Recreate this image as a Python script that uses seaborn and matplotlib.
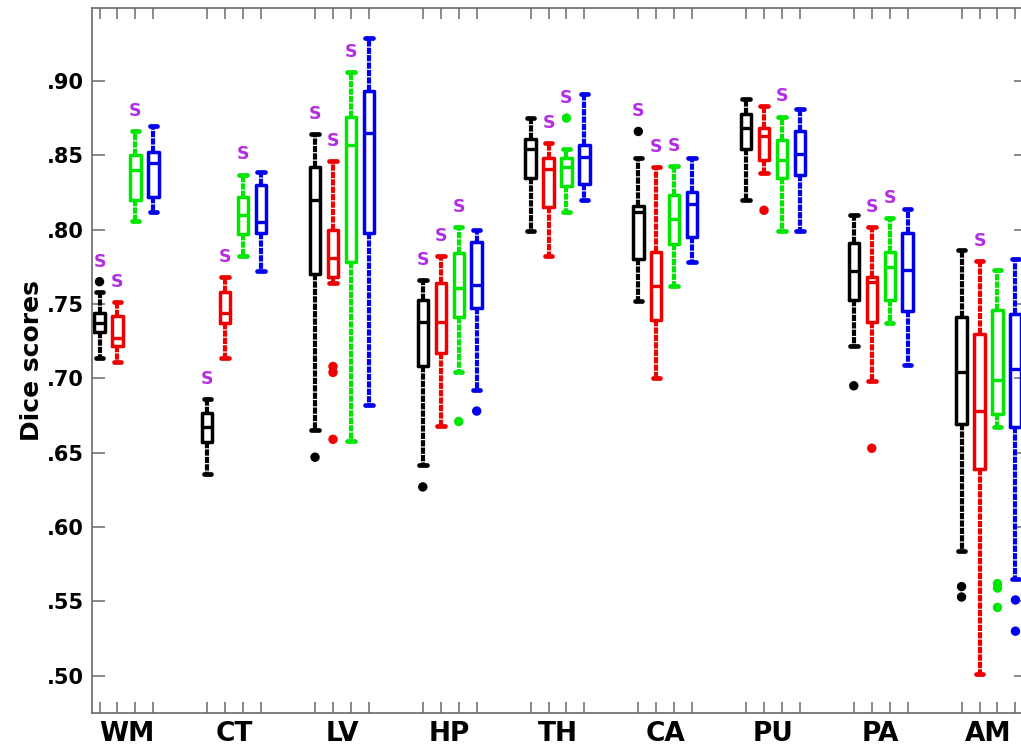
import numpy as np
import pandas as pd
import matplotlib
matplotlib.use("Agg")
import matplotlib.pyplot as plt
import seaborn as sns
from matplotlib.ticker import FuncFormatter, FixedLocator

# ---------------- data ----------------
regions = ["WM", "CT", "LV", "HP", "TH", "CA", "PU", "PA", "AM"]
methods = ["Black", "Red", "Green", "Blue"]
colors = ["#000000", "#EE0000", "#00E600", "#0000EE"]

black_lo  = [0.714, 0.636, 0.665, 0.642, 0.799, 0.752, 0.820, 0.722, 0.584]
black_q1  = [0.731, 0.657, 0.770, 0.708, 0.835, 0.780, 0.854, 0.753, 0.669]
black_med = [0.737, 0.667, 0.820, 0.738, 0.854, 0.812, 0.868, 0.772, 0.704]
black_q3  = [0.744, 0.677, 0.842, 0.753, 0.861, 0.816, 0.878, 0.791, 0.741]
black_hi  = [0.758, 0.686, 0.864, 0.766, 0.875, 0.848, 0.888, 0.810, 0.786]

red_lo  = [0.711, 0.714, 0.764, 0.668, 0.782, 0.700, 0.838, 0.698, 0.501]
red_q1  = [0.722, 0.737, 0.768, 0.717, 0.815, 0.739, 0.847, 0.738, 0.639]
red_med = [0.727, 0.744, 0.781, 0.738, 0.841, 0.762, 0.863, 0.765, 0.678]
red_q3  = [0.742, 0.758, 0.800, 0.764, 0.848, 0.785, 0.868, 0.768, 0.730]
red_hi  = [0.751, 0.768, 0.846, 0.782, 0.858, 0.842, 0.883, 0.802, 0.779]

green_lo  = [0.806, 0.782, 0.658, 0.704, 0.812, 0.762, 0.799, 0.737, 0.667]
green_q1  = [0.820, 0.797, 0.778, 0.741, 0.829, 0.790, 0.835, 0.753, 0.676]
green_med = [0.840, 0.810, 0.857, 0.761, 0.842, 0.807, 0.847, 0.775, 0.699]
green_q3  = [0.850, 0.822, 0.876, 0.784, 0.848, 0.823, 0.860, 0.785, 0.746]
green_hi  = [0.866, 0.837, 0.906, 0.802, 0.854, 0.843, 0.876, 0.808, 0.773]

blue_lo  = [0.812, 0.772, 0.682, 0.692, 0.820, 0.778, 0.799, 0.709, 0.565]
blue_q1  = [0.822, 0.798, 0.798, 0.747, 0.831, 0.795, 0.837, 0.745, 0.667]
blue_med = [0.845, 0.805, 0.865, 0.763, 0.849, 0.817, 0.851, 0.773, 0.706]
blue_q3  = [0.852, 0.830, 0.893, 0.792, 0.857, 0.825, 0.866, 0.798, 0.743]
blue_hi  = [0.870, 0.839, 0.929, 0.800, 0.891, 0.848, 0.881, 0.814, 0.780]

black_out = {"WM": [0.765], "LV": [0.647], "HP": [0.627], "CA": [0.866],
             "PA": [0.695], "AM": [0.560, 0.553]}
red_out = {"LV": [0.708, 0.704, 0.659], "PU": [0.813], "PA": [0.653]}
green_out = {"HP": [0.671], "TH": [0.875], "AM": [0.562, 0.559, 0.546]}
blue_out = {"HP": [0.678], "AM": [0.551, 0.530]}

# significance markers ("S") per method and region
black_sig = [1, 1, 1, 1, 0, 1, 0, 0, 0]
red_sig   = [1, 1, 1, 1, 1, 1, 0, 1, 1]
green_sig = [1, 1, 1, 1, 1, 1, 1, 1, 0]
blue_sig  = [0, 0, 0, 0, 0, 0, 0, 0, 0]

y_ticks = [0.50, 0.55, 0.60, 0.65, 0.70, 0.75, 0.80, 0.85, 0.90]

# ---------------- build tables ----------------
stats = {
    "Black": (black_lo, black_q1, black_med, black_q3, black_hi),
    "Red": (red_lo, red_q1, red_med, red_q3, red_hi),
    "Green": (green_lo, green_q1, green_med, green_q3, green_hi),
    "Blue": (blue_lo, blue_q1, blue_med, blue_q3, blue_hi),
}
outs = {"Black": black_out, "Red": red_out, "Green": green_out, "Blue": blue_out}
sigs = {"Black": black_sig, "Red": red_sig, "Green": green_sig, "Blue": blue_sig}

rows = []
for m in methods:
    for j, r in enumerate(regions):
        for arr in stats[m]:
            rows.append((r, m, arr[j]))
df = pd.DataFrame(rows, columns=["region", "method", "dice"])

# ---------------- figure ----------------
sns.set_theme(style="white")
plt.rcParams["font.family"] = ["DejaVu Sans"]
plt.rcParams["text.color"] = "black"
plt.rcParams["axes.labelcolor"] = "black"
plt.rcParams["xtick.color"] = "black"
plt.rcParams["ytick.color"] = "black"

W, H = 1021, 746
fig = plt.figure(figsize=(W / 100, H / 100), dpi=100)
ax = fig.add_axes([92 / W, (H - 713) / H, (1026 - 92) / W, (713 - 8) / H])

BOX_W = 0.667
GAP = 0.42
palette = dict(zip(methods, colors))

sns.boxplot(data=df, x="region", y="dice", hue="method", order=regions,
            hue_order=methods, palette=palette, fill=False, width=BOX_W,
            gap=GAP, whis=(0, 100), showfliers=False, linewidth=2.5,
            legend=False, ax=ax)

single_w = BOX_W / len(methods) * (1 - GAP)
for c in ax.containers:
    if not hasattr(c, "whiskers"):
        continue
    for w in c.whiskers:
        w.set_linestyle((0, (1.5, 0.28)))
        w.set_linewidth(3.0)
        w.set_dash_capstyle("butt")
    for cap in c.caps:
        xd = np.asarray(cap.get_xdata(), dtype=float)
        cx = xd.mean()
        hw = single_w * 0.36
        cap.set_xdata([cx - hw, cx + hw])
        cap.set_linewidth(3.4)
        cap.set_solid_capstyle("round")
    for med in c.medians:
        med.set_linewidth(2.4)

# hue offsets consistent with the dodged boxes
offsets = (np.arange(len(methods)) - (len(methods) - 1) / 2) * BOX_W / len(methods)

# outliers
ox, oy, om = [], [], []
for i, m in enumerate(methods):
    for r, vals in outs[m].items():
        j = regions.index(r)
        for v in vals:
            ox.append(j + offsets[i]); oy.append(v); om.append(m)
odf = pd.DataFrame({"x": ox, "y": oy, "method": om})
sns.scatterplot(data=odf, x="x", y="y", hue="method", palette=palette,
                s=46, edgecolor="none", legend=False, ax=ax, zorder=5)

# "S" markers
for i, m in enumerate(methods):
    for j, r in enumerate(regions):
        if sigs[m][j]:
            top = max([stats[m][4][j]] + outs[m].get(r, []))
            ax.annotate("S", xy=(j + offsets[i], top), xytext=(0, 14.5),
                        textcoords="offset points", ha="center", va="center",
                        color="#B22EE3", fontweight="bold", fontsize=12.5)

# axes styling
ax.set_xlim(-0.32, 8.348)
ax.set_ylim(0.475, 0.949)
ax.set_xlabel("")
ax.set_ylabel("Dice scores", fontsize=18, fontweight="bold", labelpad=2,
              color="black")

ax.set_yticks(y_ticks)
ax.yaxis.set_major_formatter(FuncFormatter(lambda v, p: f"{v:.2f}"[1:]))
ax.set_xticks(range(len(regions)))
ax.set_xticklabels(regions)
box_pos = [j + o for j in range(len(regions)) for o in offsets]
ax.xaxis.set_minor_locator(FixedLocator(box_pos))

spine_c = "#6a6a6a"
for s in ax.spines.values():
    s.set_color(spine_c)
    s.set_linewidth(1.2)
    s.set_visible(True)

ax.tick_params(axis="x", which="major", length=0, pad=6, labelsize=19,
               bottom=True, top=False, labelcolor="black")
ax.tick_params(axis="x", which="minor", direction="in", length=8, width=1.1,
               color=spine_c, bottom=True, top=True)
ax.tick_params(axis="y", which="major", direction="in", length=9, width=1.1,
               color=spine_c, left=True, right=True, labelsize=15, pad=6,
               labelcolor="black")
for lab in ax.get_xticklabels() + ax.get_yticklabels():
    lab.set_fontweight("bold")

fig.savefig("out.png", dpi=100)
